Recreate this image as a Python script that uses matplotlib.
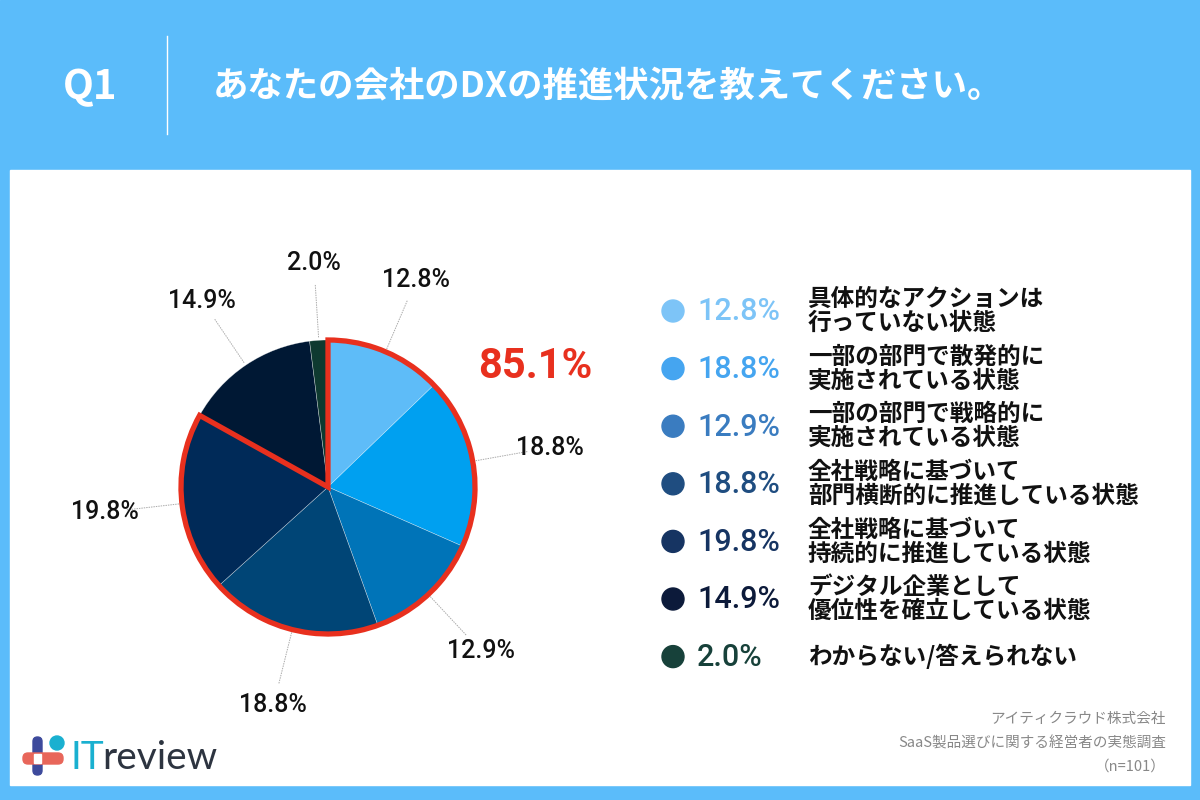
import matplotlib
matplotlib.use("Agg")
import matplotlib.pyplot as plt
import numpy as np
from matplotlib.patches import Rectangle, Wedge, FancyBboxPatch, Circle

plt.rcParams['font.family'] = ['Noto Sans CJK JP', 'DejaVu Sans']

# ---- data ----
title = "あなたの会社のDXの推進状況を教えてください。"
qnum = "Q1"
values = [12.8, 18.8, 12.9, 18.8, 19.8, 14.9, 2.0]
labels = [
    "具体的なアクションは\n行っていない状態",
    "一部の部門で散発的に\n実施されている状態",
    "一部の部門で戦略的に\n実施されている状態",
    "全社戦略に基づいて\n部門横断的に推進している状態",
    "全社戦略に基づいて\n持続的に推進している状態",
    "デジタル企業として\n優位性を確立している状態",
    "わからない/答えられない",
]
pie_colors = ["#5ebcf8", "#00a0f0", "#0074b8", "#004576", "#002a58", "#001834", "#0e3a30"]
legend_colors = ["#7dc4f7", "#45a5f0", "#3a7cc0", "#1f4d80", "#163462", "#0c1a3a", "#17413a"]
highlight_count = 5
highlight_text = "85.1%"
footer = ["アイティクラウド株式会社", "SaaS製品選びに関する経営者の実態調査", "（n=101）"]

RED = "#e8301e"
BG = "#5bbcfa"
NUMFONT = ['Roboto', 'DejaVu Sans']

fig = plt.figure(figsize=(12, 8), dpi=100)
bg = fig.add_axes([0, 0, 1, 1])
bg.set_xlim(0, 1200)
bg.set_ylim(800, 0)
bg.axis('off')
bg.add_patch(Rectangle((0, 0), 1200, 800, color=BG, zorder=0))
bg.add_patch(Rectangle((10, 170), 1180, 615, color="white", zorder=1))

# header
bg.text(90, 88, qnum, color="white", fontsize=29, fontweight="bold", ha="center", va="center", zorder=2)
bg.plot([167, 167], [36, 134], color="white", lw=1.0, zorder=2)
bg.text(213, 86, title, color="white", fontsize=25.5, fontweight="bold", ha="left", va="center", zorder=2)

# pie
cx, cy, R = 328, 487, 147
half = 225
pax = fig.add_axes([(cx - half) / 1200, (800 - cy - half) / 800, 2 * half / 1200, 2 * half / 800])
wedges, _ = pax.pie(values, colors=pie_colors, startangle=90, counterclock=False, radius=1.0,
                    wedgeprops=dict(edgecolor=(1, 1, 1, 0.5), linewidth=0.4))
pax.set_xlim(-half / R, half / R)
pax.set_ylim(-half / R, half / R)
pax.set_aspect('equal')
pax.axis('off')

total = sum(values)
for w, v in zip(wedges, values):
    ang = np.deg2rad((w.theta1 + w.theta2) / 2)
    x0, y0 = np.cos(ang), np.sin(ang)
    pax.plot([1.02 * x0, 1.38 * x0], [1.02 * y0, 1.38 * y0], color="#aaaaaa", lw=0.7,
             linestyle=(0, (1.5, 1.0)), zorder=1)
    pax.text(1.53 * x0, 1.53 * y0, f"{v:.1f}%", ha="center", va="center", fontsize=18,
             family=NUMFONT, fontweight="medium", color="#111111", zorder=3)

# highlight outline
hl = sum(values[:highlight_count]) / total * 360
pax.add_patch(Wedge((0, 0), 1.0, 90 - hl, 90, fill=False, edgecolor=RED, linewidth=3.8,
                    joinstyle='miter', zorder=4))
bg.text(535, 367, highlight_text, color=RED, fontsize=30, family=NUMFONT, fontweight="bold",
        ha="center", va="center", zorder=3)

# legend
y0 = 311
dy = 57.6
for i, (lab, v, c) in enumerate(zip(labels, values, legend_colors)):
    y = y0 + i * dy
    bg.add_patch(Circle((673, y), 11, color=c, zorder=3))
    bg.text(697, y + 1, f"{v:.1f}%", color=c, fontsize=22, family=NUMFONT, fontweight="medium",
            ha="left", va="center", zorder=3)
    lines = lab.split("\n")
    if len(lines) == 1:
        bg.text(808, y, lines[0], fontsize=17, fontweight="bold", color="#111111",
                ha="left", va="center", zorder=3)
    else:
        bg.text(808, y - 12, lines[0], fontsize=17, fontweight="bold", color="#111111",
                ha="left", va="center", zorder=3)
        bg.text(808, y + 12, lines[1], fontsize=17, fontweight="bold", color="#111111",
                ha="left", va="center", zorder=3)

# footer
for j, t in enumerate(footer):
    bg.text(1166, 719 + j * 24, t, color="#888888", fontsize=10.5, ha="right", va="center", zorder=3)

# logo
bg.add_patch(FancyBboxPatch((33, 737), 9, 38, boxstyle="round,pad=0,rounding_size=4.5",
                            color="#3d4a9c", zorder=3))
bg.add_patch(FancyBboxPatch((23, 753), 40, 11, boxstyle="round,pad=0,rounding_size=5",
                            color="#e8665a", zorder=3))
bg.add_patch(Rectangle((34, 754), 7, 9, color="white", zorder=4))
bg.add_patch(Circle((57, 743), 7, color="#1ab0d0", zorder=3))
bg.text(70, 758, "IT", color="#1ab0d0", fontsize=28, family="Lato",
        ha="left", va="center", zorder=3)
bg.text(102, 758, "review", color="#2d3440", fontsize=28, family="Lato",
        ha="left", va="center", zorder=3)

fig.savefig("out.png", dpi=100)
